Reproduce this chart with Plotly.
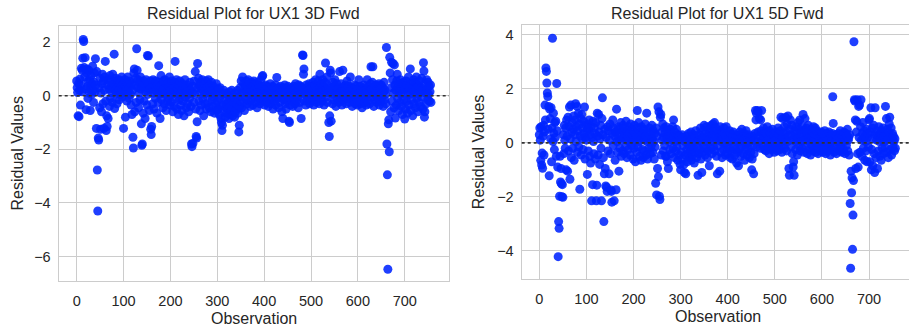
import plotly.graph_objects as go

# Residuals for UX1 3D forward model (observation index = position in list)
resid_3d = [
    0.55, 0.30, 0.12, -0.75, 0.45, -0.78, 0.20, 0.62, -0.35, 0.40, 1.02, 0.15, 0.95, 1.40, 2.10, 2.02, 1.05, 0.70, 1.42, 0.25,
    -0.52, 0.85, 1.00, 0.35, -0.10, 0.55, 0.95, 0.10, 0.60, -0.55, 0.30, 0.75, 0.05, 0.45, 1.10, 0.20, -0.25, 0.50, 0.85, 0.15,
    1.38, 0.40, -1.22, 0.90, -2.77, -4.30, -1.58, -1.65, 0.30, -0.45, 0.65, -1.25, 0.10, -0.60, 0.45, 0.80, -0.30, 0.55, -1.22, 0.20,
    0.70, 1.28, -0.20, -1.30, -0.75, -1.15, 0.40, -0.85, 0.60, 0.25, -0.40, 0.75, -0.10, 0.35, 0.55, 0.10, -0.25, 0.80, 0.30, 0.45,
    1.55, -0.48, 0.20, 0.65, 0.05, 0.40, -0.30, 0.55, 0.15, 0.35, 0.60, -0.15, 0.25, 0.50, 0.05, 0.30, 0.70, -0.05, 0.40, 0.20,
    -1.22, 0.45, 0.10, 0.60, -0.80, 0.35, 0.25, -0.20, 0.50, 0.70, 0.15, 0.40, -0.10, 0.30, 0.55, 0.05, -0.35, 0.45, -0.70, 0.20,
    -1.55, -1.95, 0.85, 1.00, -0.60, 0.40, 0.65, -0.25, 1.75, 0.95, 0.30, 0.60, -0.45, 0.10, 0.50, -0.15, 0.70, 0.25, -1.05, -1.85,
    -1.80, 0.35, -0.65, 0.55, -0.20, 0.45, -0.85, 0.15, 0.60, 0.30, -0.35, 1.50, 0.05, 1.48, 0.40, -0.55, 0.25, 0.55, -1.25, -1.45,
    -1.15, 0.35, -0.30, 0.60, 0.10, -0.50, 0.45, 0.20, -0.10, 0.55, 0.30, -0.65, 0.15, 0.40, -0.25, 1.12, 0.50, 0.05, -0.85, 0.35,
    0.75, -0.15, 0.40, 0.10, -0.45, 0.55, 0.25, -0.30, 0.60, 0.05, 0.30, -0.55, 0.45, 0.15, -0.20, 0.50, -0.05, 0.35, 0.70, -0.35,
    0.20, 0.45, -0.25, 0.55, 0.05, -0.60, 0.30, 0.15, -0.40, 0.50, 1.28, -0.10, 0.35, 0.60, -0.50, 0.10, 0.25, -0.70, 0.40, -0.15,
    0.55, 0.05, -0.35, 0.30, -0.55, 0.20, 0.45, -0.20, 0.10, -0.75, 0.35, 0.60, -0.05, 0.25, -0.45, 0.15, 0.40, -0.30, 0.05, -0.60,
    0.30, -0.10, 0.50, 0.20, -0.40, -1.80, -1.90, 0.10, -1.78, 0.35, -0.25, 0.55, 0.05, 0.90, -0.50, -1.52, -1.58, -0.97, 1.20, 0.30,
    0.65, -0.20, 0.40, -0.55, 0.15, 0.50, -0.35, 0.25, 0.60, -0.10, 0.35, -0.75, 0.05, 0.45, -0.30, 0.20, 0.55, -0.50, 0.10, 0.30,
    -0.25, 0.60, 0.15, -0.45, 0.40, 0.05, -0.60, 0.30, 0.50, -0.15, 0.20, -0.40, 0.35, -0.05, -0.65, 0.25, 0.10, -0.30, 0.45, -0.55,
    -0.20, 0.15, -0.50, 0.25, -0.70, -0.10, 0.30, -0.40, -0.85, -1.00, -1.30, -1.10, 0.05, -0.35, 0.20, -0.60, -0.15, -0.80, 0.10, -0.45,
    -0.30, -0.65, 0.05, -0.50, -0.20, -0.85, 0.15, -0.40, -0.70, -0.10, -0.55, 0.20, -0.35, -0.75, -0.05, -0.45, -0.25, -0.80, 0.10, -0.60,
    -0.15, -0.50, -0.30, 0.20, -0.65, -0.05, -1.35, -1.10, -0.40, 0.30, -0.20, 0.55, -0.45, 0.10, 0.70, -0.25, 0.45, 0.05, -0.55, 0.25,
    0.40, -0.10, 0.55, 0.15, -0.30, 0.35, 0.60, -0.20, 0.25, 0.05, -0.40, 0.45, 0.20, -0.15, 0.50, 0.10, -0.35, 0.30, 0.55, -0.05,
    0.20, 0.45, -0.25, 0.35, 0.10, -0.45, 0.50, 0.25, -0.10, 0.40, 0.05, -0.30, 0.30, 0.60, 0.15, -0.20, 0.72, 0.75, 0.35, -0.15,
    0.10, -0.35, 0.25, 0.40, -0.05, 0.20, -0.25, 0.35, 0.05, -0.40, 0.30, 0.15, -0.15, 0.45, -0.30, 0.10, 0.25, -0.10, 0.35, -0.50,
    0.05, 0.30, -0.20, 0.15, 0.40, -0.35, 0.20, 0.68, -0.10, 0.25, 0.05, -0.45, 0.30, 0.10, -0.25, 0.35, -0.05, 0.20, -0.60, 0.15,
    -0.85, 0.30, -0.15, 0.05, 0.40, -0.30, 0.15, -0.50, 0.25, 0.10, -0.20, 0.35, -0.05, -0.95, -1.00, 0.20, -0.35, 0.10, 0.30, -0.15,
    0.25, -0.40, 0.05, 0.35, -0.10, 0.20, -0.30, 0.45, 0.10, -0.20, 0.30, -0.05, 0.15, -0.45, 0.40, 0.05, -0.25, 0.20, 0.35, -0.85,
    0.10, 0.30, 1.52, 1.50, 0.80, 1.00, -0.20, 0.25, 0.05, -0.35, 0.40, 0.15, -0.15, 0.30, -0.05, 0.20, 0.45, -0.30, 0.10, 0.35,
    -0.20, 0.05, 0.30, -0.10, 0.50, 0.15, -0.35, 0.25, 0.40, -0.15, 0.60, 0.05, -0.25, 0.35, 0.20, -0.05, 0.55, 0.10, -0.30, 0.80,
    0.30, -0.10, 0.45, 0.15, -0.20, 0.60, 0.05, 0.35, -0.35, 0.20, 0.50, 1.22, -0.05, 0.25, 0.70, -0.25, 0.40, 0.10, -1.00, -1.52,
    -0.75, 0.95, 0.85, -0.95, 0.30, 0.05, -0.30, 0.50, 0.15, -0.15, 0.35, 0.60, 0.20, -0.40, 0.10, 0.45, -0.10, 0.25, 0.05, -0.25,
    0.30, 0.90, 0.10, -0.20, 0.45, 0.15, -0.35, 0.25, 0.95, 0.05, -0.15, 0.35, 0.20, -0.05, 0.40, -0.30, 0.10, 0.55, 0.25, -0.10,
    0.15, 0.35, -0.25, 0.05, 0.70, 0.20, -0.10, 0.30, -0.40, 0.10, 0.25, -0.20, 0.05, 0.40, -0.30, 0.15, 0.35, -0.05, 0.20, -0.35,
    0.05, 0.25, 0.60, -0.15, 0.10, 0.35, -0.30, 0.20, 0.05, -0.45, 0.15, 0.30, -0.10, 0.40, 0.05, -0.25, 0.20, 0.10, -0.35, 0.25,
    0.60, 0.05, -0.20, 0.35, 0.15, -0.30, 0.10, 0.45, 1.08, -0.05, 0.25, 0.50, 1.08, 0.15, -0.40, 0.30, 0.05, -0.15, 0.20, 0.40,
    -0.25, 0.10, 0.35, -0.10, 0.20, 0.45, -0.35, 0.05, 0.25, -0.20, 0.40, 0.10, -0.05, 0.30, -0.40, 0.15, 0.50, -0.15, 0.20, 0.05,
    -0.30, 1.80, -1.80, -2.95, -6.47, -1.05, -0.90, -2.09, 1.43, 0.85, -0.60, 0.30, 1.25, -0.20, 0.60, 1.20, 0.10, -0.45, 1.15, 0.40,
    -0.83, 0.20, -0.35, 0.55, 0.80, -0.10, 0.35, -0.55, 0.15, 0.45, -0.25, 0.60, 0.05, -0.40, 0.30, -0.70, 0.20, 0.50, -0.15, 0.35,
    -0.87, 0.25, -0.50, 0.55, -0.20, 0.40, -0.65, 0.10, 0.70, -0.35, 0.30, 0.05, 1.00, -0.55, 0.45, -0.15, 0.20, -0.75, 0.35, 0.60,
    -0.30, 0.15, 0.50, -0.45, 0.25, 0.70, -0.10, 0.40, -0.60, 0.05, 0.35, -0.25, 0.55, 0.15, -0.40, 0.30, 0.65, -0.05, 0.20, -0.50,
    1.23, 0.92, -0.80, -0.60, 0.45, 0.10, -0.30, 0.60, 0.25, -0.15, 0.50, 0.05, 0.35, -0.20, 0.15, 0.40, -0.25,
]

# Residuals for UX1 5D forward model
resid_5d = [
    0.30, 0.55, 0.10, -0.65, 0.60, -0.82, -0.38, -0.94, 0.25, 0.65, -0.45, 0.40, 1.40, 0.85, 2.78, 2.65, 2.22, 1.85, 1.72, 0.50,
    1.35, -1.22, 1.25, 0.90, 0.15, 1.30, -0.70, 0.55, 3.88, 0.05, 1.10, 0.35, -0.25, 0.75, 0.20, 0.80, -0.50, 2.20, 0.45, -0.90,
    -4.22, -2.92, -3.17, -1.98, -0.50, -1.45, -0.95, -1.52, -2.00, -1.55, -2.02, 0.30, -0.40, 0.65, 0.10, -0.20, 0.55, -1.00, 0.85, 0.25,
    -1.05, 0.95, -0.30, 0.60, 1.33, -1.35, 0.15, 1.40, -0.55, 0.40, 0.75, -0.20, 0.50, 1.00, -0.65, 0.30, 0.85, 1.45, 0.05, 0.60,
    1.35, -0.35, 0.45, 1.10, -0.15, 0.70, -1.72, 0.25, 0.90, -0.45, 1.05, 0.15, 0.55, -0.25, 0.80, 0.35, 1.33, -0.60, 0.20, 0.65,
    0.10, 0.45, -1.17, 0.70, -0.30, 0.50, 0.85, -0.50, 0.30, -0.75, 0.60, -2.15, 0.20, -1.55, 0.80, 0.05, -0.40, 0.55, 0.35, -0.60,
    0.75, -2.15, -1.57, 1.10, 0.25, -0.45, 1.05, 0.40, -0.80, 0.15, 0.65, -0.20, -2.15, 0.90, 1.67, 0.30, -0.55, -2.92, -1.15, 0.50,
    -0.95, -1.60, 0.20, -1.65, -1.80, 0.60, -0.30, 0.45, -1.15, 0.10, 0.70, -0.40, -1.75, -1.80, -2.20, 0.35, 0.85, -0.10, 0.55, -2.15,
    0.25, -0.65, 0.40, -1.74, 1.25, 0.05, -0.35, 0.60, 0.15, -1.05, 0.50, -0.20, 0.30, 0.75, -0.50, 0.10, 0.45, -0.30, 0.65, 0.20,
    -0.40, 0.35, 0.55, -0.15, 0.80, 0.10, -0.55, 0.40, 0.25, -0.25, 0.60, 0.05, 0.35, -0.45, 0.70, 0.15, -0.10, 0.50, 0.30, -0.60,
    0.45, -0.20, 0.65, 0.10, -0.70, 0.35, 0.20, -0.35, 1.20, 0.55, -0.15, 0.75, 0.05, -0.50, 0.40, 0.25, -0.65, 0.60, 0.15, -0.25,
    0.35, -0.55, 0.50, 0.10, -0.30, 0.70, 0.25, -0.45, 1.10, 0.05, -0.60, 0.40, 0.20, -0.20, 0.55, 0.15, -0.40, 0.30, -0.10, 0.65,
    0.15, -0.35, 0.45, 0.05, -0.60, 0.35, -0.15, -1.50, 0.55, -1.93, 0.25, -0.95, 1.33, -1.25, 1.15, -1.98, -2.10, 0.95, 1.05, -0.45,
    0.40, 0.10, 0.70, -0.30, 0.20, 0.55, -0.10, 0.35, -0.50, 0.60, -0.50, 0.15, -0.70, 0.45, -0.95, 0.05, 0.30, -0.25, 0.50, 0.20,
    -0.40, 0.35, 0.10, 0.60, -0.20, 0.85, 0.25, -0.55, 0.40, 0.05, -0.30, 0.50, -0.15, 0.20, -0.65, 0.30, 0.10, -0.45, 0.25, -0.80,
    -1.00, 0.15, -0.35, 0.30, -0.60, -0.10, 0.20, -0.80, -1.10, 0.05, -0.45, -1.15, 0.25, -0.25, -0.70, 0.10, -0.40, 0.35, -0.15, -0.55,
    0.05, -0.30, 0.40, -0.65, -0.10, 0.20, -0.45, 0.30, -0.20, -0.75, 0.15, -0.35, 0.45, 0.05, -0.55, 0.25, -0.15, -1.20, 0.10, -0.40,
    0.30, -0.25, 0.55, -0.60, 0.05, -1.10, 0.20, -0.35, 0.45, -0.10, 0.65, 0.15, -0.45, 0.35, -0.20, 0.60, 0.05, -0.55, 0.25, -0.30,
    0.50, -0.85, 0.15, 0.40, -0.20, 0.65, 0.05, -0.40, 0.30, 0.70, -0.15, 0.45, 0.75, -0.30, 0.20, 0.55, -0.50, 0.10, -1.15, 0.35,
    -0.10, 0.45, 0.20, -1.05, 0.60, -0.35, 0.05, 0.30, -0.55, 0.40, 0.15, -0.25, 0.55, -0.05, 0.35, -0.45, 0.25, 0.60, -0.15, 0.10,
    -0.40, 0.30, 0.05, -0.20, 0.45, -0.55, 0.15, 0.35, -0.30, 0.10, -0.60, 0.25, 0.40, -0.15, 0.05, -0.45, 0.30, -0.25, 0.20, -0.75,
    0.10, -0.35, 0.25, -0.85, 0.05, 0.40, -0.20, 0.15, -0.50, 0.30, 0.50, -0.10, 0.20, -0.40, 0.05, 0.35, -0.65, 0.15, -0.25, 0.45,
    -0.05, 0.25, -0.45, 0.10, -0.20, 0.30, -0.55, 0.05, 0.20, -0.35, 0.15, -1.00, -0.60, 0.25, -0.10, -1.15, -0.40, 0.10, 0.35, 1.20,
    0.85, 1.10, -0.15, 1.20, 0.40, 1.15, 0.05, 0.90, 0.25, -0.20, 0.85, 0.45, 1.20, 0.10, 0.30, -0.10, 0.55, 0.20, -0.25, 0.40,
    0.15, -0.30, 0.35, 0.05, 0.60, -0.15, 0.25, 0.10, -0.40, 0.45, 0.20, -0.05, 0.35, -0.25, 0.15, 0.50, -0.10, 0.30, 0.05, -0.35,
    0.25, 0.10, -0.20, 0.40, 0.05, -0.30, 0.20, 0.55, -0.15, 0.30, 0.10, -0.25, 0.45, 0.95, 0.05, -0.35, 0.20, 0.90, -0.10, 0.35,
    0.60, -0.20, 0.15, 0.95, 0.40, -0.30, 0.70, 0.05, 1.00, 0.25, -0.95, -1.20, 0.50, 0.85, -0.15, 0.30, 0.65, -0.40, 0.10, -0.90,
    -0.70, -1.20, 0.45, 0.20, -0.25, 0.60, 0.05, 0.35, -0.45, 0.75, 0.15, -0.10, 0.50, 0.85, -0.30, 0.25, 0.05, 0.40, -0.20, 0.60,
    1.05, 0.10, -0.35, 0.45, 0.90, 0.20, -0.15, 0.55, 0.30, -0.40, 0.15, 0.65, 0.05, -0.25, 0.35, 0.10, -0.45, 0.50, 0.25, -0.10,
    0.40, -0.30, 0.60, 0.05, -0.20, 0.30, 0.55, -0.35, 0.15, 0.45, -0.10, 0.25, -0.40, 0.05, 0.35, -0.25, 0.20, 0.10, -0.30, 0.40,
    -0.05, 0.15, -0.35, 0.30, 0.05, -0.20, 0.45, 0.10, -0.40, 0.25, -0.15, 0.35, 0.05, -0.30, 0.20, 0.40, -0.10, 0.15, -0.45, 0.30,
    0.05, -0.25, 0.35, 1.71, 0.72, 0.10, -0.35, 0.20, -0.15, 0.30, 0.05, -0.40, 0.25, 0.15, -0.20, 0.35, 0.10, -0.30, 0.20, 0.45,
    -0.15, 0.05, 0.30, -0.35, 0.20, 0.10, -0.25, 0.40, 0.05, -0.40, 0.15, 0.35, -0.10, 0.25, 0.50, -0.30, 0.10, 0.20, -0.45, 0.30,
    -2.25, -4.65, -1.05, -1.85, -1.30, -3.95, -2.68, -1.40, 3.75, 1.60, 1.55, 0.85, -0.95, 0.40, 0.80, 1.60, -0.40, -0.90, 1.35, 0.20,
    1.40, -0.35, 0.60, 1.60, 0.10, -0.50, 0.35, 0.75, -0.20, 0.15, 0.45, -0.65, 0.25, 0.05, -0.30, 0.50, -0.70, 0.20, 0.35, -0.15,
    0.85, 0.90, -0.70, 0.40, 1.30, -1.00, -0.25, 0.55, -0.85, 0.15, 0.65, -0.40, -1.10, 1.30, 0.30, -0.55, 0.10, 0.45, -0.95, 0.25,
    -0.30, 0.60, 0.05, -0.50, 0.35, 0.15, -0.65, 0.45, -0.20, 0.10, 0.55, -0.40, 0.25, 0.05, -0.15, 1.35, 0.30, 0.90, -0.35, 0.50,
    0.15, -0.55, 0.40, 0.70, 0.95, -0.25, 0.20, 0.55, -0.45, 0.10, 0.35, -0.15, 0.25, 0.05, -0.30, 0.15, -0.20,
]

titles = ["Residual Plot for UX1 3D Fwd", "Residual Plot for UX1 5D Fwd"]
x_label = "Observation"
y_label = "Residual Values"
x_ticks = [0, 100, 200, 300, 400, 500, 600, 700]
y_ticks_3d = [2, 0, -2, -4, -6]
y_ticks_5d = [4, 2, 0, -2, -4]

obs_3d = list(range(len(resid_3d)))
obs_5d = list(range(len(resid_5d)))

W, H = 909, 332
FONT = "Liberation Sans, Arial, sans-serif"
TXT = "#262626"
GRID = "#cccccc"
MARK = "rgba(0,36,255,0.88)"

fig = go.Figure()
fig.add_trace(go.Scatter(x=obs_3d, y=resid_3d, mode="markers", xaxis="x", yaxis="y",
                         marker=dict(size=9, color=MARK, line=dict(width=0)), showlegend=False))
fig.add_trace(go.Scatter(x=obs_5d, y=resid_5d, mode="markers", xaxis="x2", yaxis="y2",
                         marker=dict(size=9, color=MARK, line=dict(width=0)), showlegend=False))

# plot-area pixel boxes
L1, R1, T1, B1 = 58.7, 449.0, 26.0, 281.0
L2, R2, T2, B2 = 521.7, 909.0, 25.0, 279.3

def px(v):
    return v / W

def py(v):
    return 1 - v / H

axis_common = dict(showgrid=True, gridcolor=GRID, gridwidth=1, zeroline=False,
                   showline=True, linecolor=GRID, linewidth=1.25,
                   tickfont=dict(family=FONT, size=14.5, color=TXT),
                   ticks="outside", tickcolor="rgba(0,0,0,0)", automargin=False)

fig.update_layout(
    width=W, height=H,
    margin=dict(l=0, r=0, t=0, b=0),
    paper_bgcolor="white", plot_bgcolor="white",
    xaxis=dict(domain=[px(L1), px(R1)], range=[-38.4, 794.5], tickvals=x_ticks,
               anchor="y", mirror=True, ticklen=6, **axis_common),
    yaxis=dict(domain=[py(B1), py(T1)], range=[-6.91, 2.60], tickvals=y_ticks_3d,
               anchor="x", mirror=True, ticklen=4, **axis_common),
    xaxis2=dict(domain=[px(L2), 1.0], range=[-37.4, 784.9], tickvals=x_ticks,
                anchor="y2", mirror=True, ticklen=6, **axis_common),
    yaxis2=dict(domain=[py(B2), py(T2)], range=[-5.06, 4.37], tickvals=y_ticks_5d,
                anchor="x2", mirror=False, ticklen=4, **axis_common),
)

# dotted zero reference lines
for xr, yr in [("x domain", "y"), ("x2 domain", "y2")]:
    fig.add_shape(type="line", xref=xr, yref=yr, x0=0, x1=1, y0=0, y1=0,
                  line=dict(color="#333333", width=1.6, dash="dot"), layer="above")

ann = []
for title, (l, r), ty in [(titles[0], (L1, R1), 14.0), (titles[1], (L2, 913.7), 13.3)]:
    ann.append(dict(text=title, x=px((l + r) / 2), y=py(ty), xref="paper", yref="paper",
                    xanchor="center", yanchor="middle", showarrow=False,
                    font=dict(family=FONT, size=16, color=TXT)))
for (l, r), ly in [((L1, R1), 318.0), ((L2, 913.7), 316.0)]:
    ann.append(dict(text=x_label, x=px((l + r) / 2), y=py(ly), xref="paper", yref="paper",
                    xanchor="center", yanchor="middle", showarrow=False,
                    font=dict(family=FONT, size=16, color=TXT)))
for lx, (t, b) in [(17.0, (T1, B1)), (478.0, (T2, B2))]:
    ann.append(dict(text=y_label, x=px(lx), y=py((t + b) / 2), xref="paper", yref="paper",
                    xanchor="center", yanchor="middle", textangle=-90, showarrow=False,
                    font=dict(family=FONT, size=16, color=TXT)))
fig.update_layout(annotations=ann)

fig.write_html("out.html", config={"displayModeBar": False})

# remove the browser's default page margin so the figure sits at the window's corner
with open("out.html", "r", encoding="utf-8") as f:
    page = f.read()
page = page.replace("<head>", "<head><style>html,body{margin:0;padding:0;overflow:hidden;}</style>", 1)
with open("out.html", "w", encoding="utf-8") as f:
    f.write(page)
